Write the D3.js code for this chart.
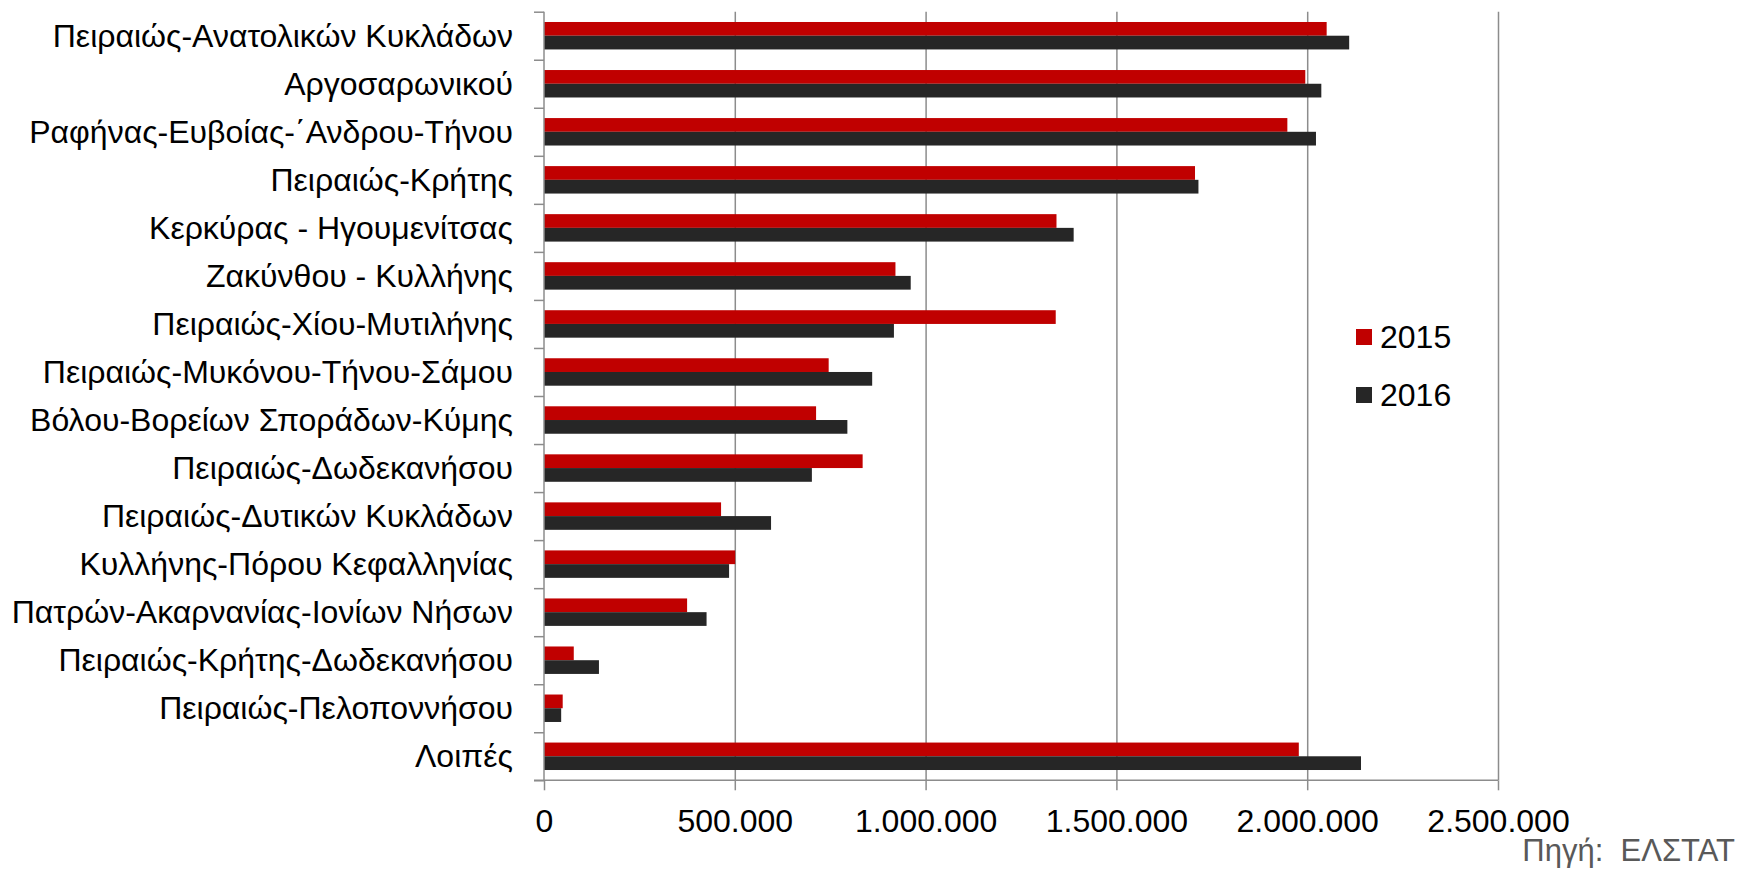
<!DOCTYPE html>
<html>
<head>
<meta charset="utf-8">
<script src="https://cdn.jsdelivr.net/npm/d3@7"></script>
<style>
  body { margin: 0; background: #fff; }
  text { font-family: "Liberation Sans", Arial, sans-serif; }
</style>
</head>
<body>
<div id="vis-holder"></div>
<script>
// Data
const categories = [
  "Πειραιώς-Ανατολικών Κυκλάδων",
  "Αργοσαρωνικού",
  "Ραφήνας-Ευβοίας-΄Ανδρου-Τήνου",
  "Πειραιώς-Κρήτης",
  "Κερκύρας - Ηγουμενίτσας",
  "Ζακύνθου - Κυλλήνης",
  "Πειραιώς-Χίου-Μυτιλήνης",
  "Πειραιώς-Μυκόνου-Τήνου-Σάμου",
  "Βόλου-Βορείων Σποράδων-Κύμης",
  "Πειραιώς-Δωδεκανήσου",
  "Πειραιώς-Δυτικών Κυκλάδων",
  "Κυλλήνης-Πόρου Κεφαλληνίας",
  "Πατρών-Ακαρνανίας-Ιονίων Νήσων",
  "Πειραιώς-Κρήτης-Δωδεκανήσου",
  "Πειραιώς-Πελοποννήσου",
  "Λοιπές"
];
const values2015 = [2051000, 1995000, 1948000, 1706000, 1343000, 921000, 1341000, 746000,
                    713000, 835000, 464000, 501000, 375000, 78000, 49000, 1978000];
const values2016 = [2110000, 2037000, 2023000, 1715000, 1388000, 961000, 917000, 860000,
                    795000, 702000, 595000, 485000, 426000, 144000, 45000, 2141000];
const series = ["2015", "2016"];
const xTicks = [0, 500000, 1000000, 1500000, 2000000, 2500000];
const sourceText = "Πηγή:  ΕΛΣΤΑΤ";

const width = 1737;
const height = 869;
const plot = { left: 544, right: 1498, top: 11.7, bottom: 780.3 };
const colors = { "2015": "#C00000", "2016": "#262626" };
const gridColor = "#8c8c8c";
const fontSize = "32px";

const grFormat = d3.formatLocale({ decimal: ",", thousands: ".", grouping: [3], currency: ["", "€"] })
                   .format(",.0f");

const svg = d3.select("#vis-holder")
              .append("svg")
              .attr("width", width)
              .attr("height", height);

// Scales
const x = d3.scaleLinear()
            .domain([0, 2500000])
            .range([plot.left, plot.right]);

const y = d3.scaleBand()
            .domain(categories)
            .range([plot.top, plot.bottom])
            .padding(0);

// two bars per category, gap width 150%
const ySub = d3.scaleBand()
               .domain(series)
               .range([0, y.bandwidth()])
               .paddingInner(0)
               .paddingOuter(0.75);

// Vertical gridlines
svg.append("g")
   .attr("transform", `translate(0,${plot.bottom})`)
   .call(d3.axisBottom(x).tickValues(xTicks.slice(1)).tickSize(-(plot.bottom - plot.top)).tickFormat(""))
   .call((g) => g.select(".domain").remove())
   .call((g) => g.selectAll("line").attr("stroke", gridColor).attr("stroke-width", 1.5));

// Bars
const rows = categories.map((c, i) => ({ cat: c, "2015": values2015[i], "2016": values2016[i] }));

svg.append("g")
   .selectAll("g")
   .data(rows)
   .join("g")
     .attr("transform", (d) => `translate(0,${y(d.cat)})`)
   .selectAll("rect")
   .data((d) => series.map((s) => ({ key: s, value: d[s] })))
   .join("rect")
     .attr("x", x(0))
     .attr("y", (d) => ySub(d.key))
     .attr("width", (d) => x(d.value) - x(0))
     .attr("height", ySub.bandwidth())
     .attr("fill", (d) => colors[d.key]);

// X axis
svg.append("g")
   .attr("transform", `translate(0,${plot.bottom})`)
   .call(d3.axisBottom(x).tickValues(xTicks).tickSize(10).tickPadding(19).tickFormat(grFormat))
   .call((g) => g.select(".domain").attr("stroke", gridColor).attr("stroke-width", 1.5)
                 .attr("d", `M${plot.left - 10},0H${plot.right}`))
   .call((g) => g.selectAll("line").attr("stroke", gridColor).attr("stroke-width", 1.5))
   .call((g) => g.selectAll("text").attr("font-size", fontSize).attr("fill", "#000")
                 .attr("font-family", '"Liberation Sans", Arial, sans-serif'));

// Y axis: ticks on category boundaries
const yIdx = d3.scaleLinear().domain([0, categories.length]).range([plot.top, plot.bottom]);
svg.append("g")
   .attr("transform", `translate(${plot.left},0)`)
   .call(d3.axisLeft(yIdx).tickValues(d3.range(categories.length + 1)).tickSize(10).tickFormat(""))
   .call((g) => g.select(".domain").attr("stroke", gridColor).attr("stroke-width", 1.5)
                 .attr("d", `M0,${plot.top}V${plot.bottom}`))
   .call((g) => g.selectAll("line").attr("stroke", gridColor).attr("stroke-width", 1.5));

// Category labels
svg.append("g")
   .selectAll("text")
   .data(categories)
   .join("text")
     .attr("x", 513)
     .attr("y", (d) => y(d) + y.bandwidth() / 2)
     .attr("dy", "0.35em")
     .attr("text-anchor", "end")
     .attr("font-size", fontSize)
     .attr("fill", "#000")
     .text((d) => d);

// Legend
const legend = svg.append("g")
   .selectAll("g")
   .data(series)
   .join("g")
     .attr("transform", (d, i) => `translate(1356,${329 + i * 58})`);

legend.append("rect")
      .attr("width", 16)
      .attr("height", 16)
      .attr("fill", (d) => colors[d]);

legend.append("text")
      .attr("x", 24)
      .attr("y", 8)
      .attr("dy", "0.35em")
      .attr("font-size", fontSize)
      .attr("fill", "#000")
      .text((d) => d);

// Source
svg.append("text")
   .attr("x", 1735)
   .attr("y", 861)
   .attr("text-anchor", "end")
   .attr("font-size", "31px")
   .attr("fill", "#595959")
   .style("white-space", "pre")
   .text(sourceText);
</script>
</body>
</html>
